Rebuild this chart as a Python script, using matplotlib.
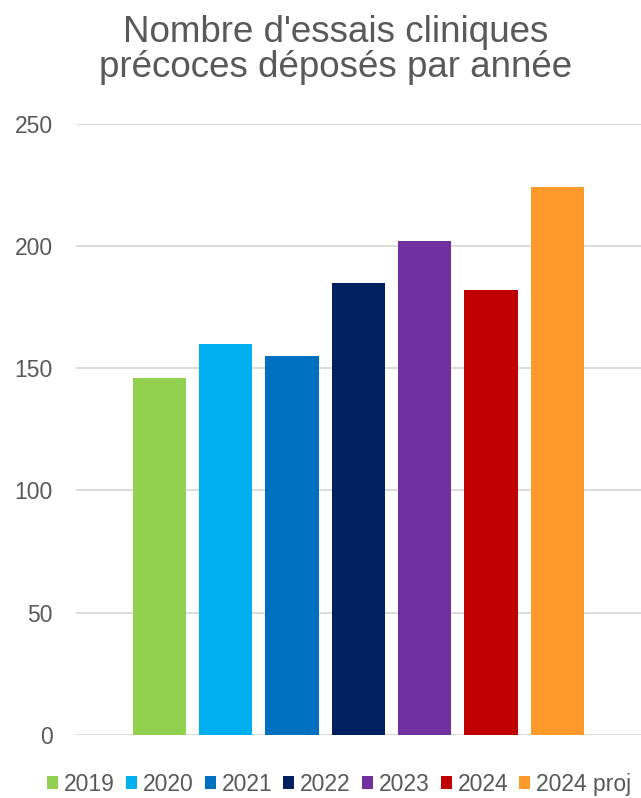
import numpy as np
import matplotlib
matplotlib.use("Agg")
import matplotlib.pyplot as plt
from matplotlib.patches import Patch

# Séries : une barre par année
annees = ["2019", "2020", "2021", "2022", "2023", "2024", "2024 proj"]
essais = [146, 160, 155, 185, 202, 182, 224]
couleurs = ["#92d050", "#00b0f0", "#0070c0", "#002060", "#7030a0", "#c00000", "#ff9a2a"]

plt.rcParams['font.family'] = ['Liberation Sans', 'DejaVu Sans']
texte = "#595959"

fig = plt.figure(figsize=(6.41, 7.98), dpi=100)
ax = fig.add_axes([0.118, 0.079, 0.882, 0.766])

x = np.arange(len(annees))
ax.bar(x, essais, width=0.8, color=couleurs, zorder=3)

ax.set_xlim(-1.26, 7.26)
ax.set_ylim(0, 250)
ax.set_yticks(np.arange(0, 251, 50))
ax.set_xticks([])
ax.tick_params(axis='y', length=0, labelsize=16.5, labelcolor=texte, pad=16.5)
ax.yaxis.grid(True, color="#d9d9d9", linewidth=1.3, zorder=0)
for s in ax.spines.values():
    s.set_visible(False)

fig.text(0.524, 0.937, "Nombre d'essais cliniques\nprécoces déposés par année",
         ha='center', va='center', fontsize=26.5, color=texte, linespacing=1.0)

poignees = [Patch(facecolor=c, label=a) for a, c in zip(annees, couleurs)]
fig.legend(handles=poignees, loc='center', bbox_to_anchor=(0.529, 0.0175), ncol=7,
           frameon=False, fontsize=16.5, labelcolor=texte, handlelength=0.48,
           handleheight=0.48, handletextpad=0.26, columnspacing=0.48,
           borderpad=0, borderaxespad=0)

fig.savefig("out.png", dpi=100)
